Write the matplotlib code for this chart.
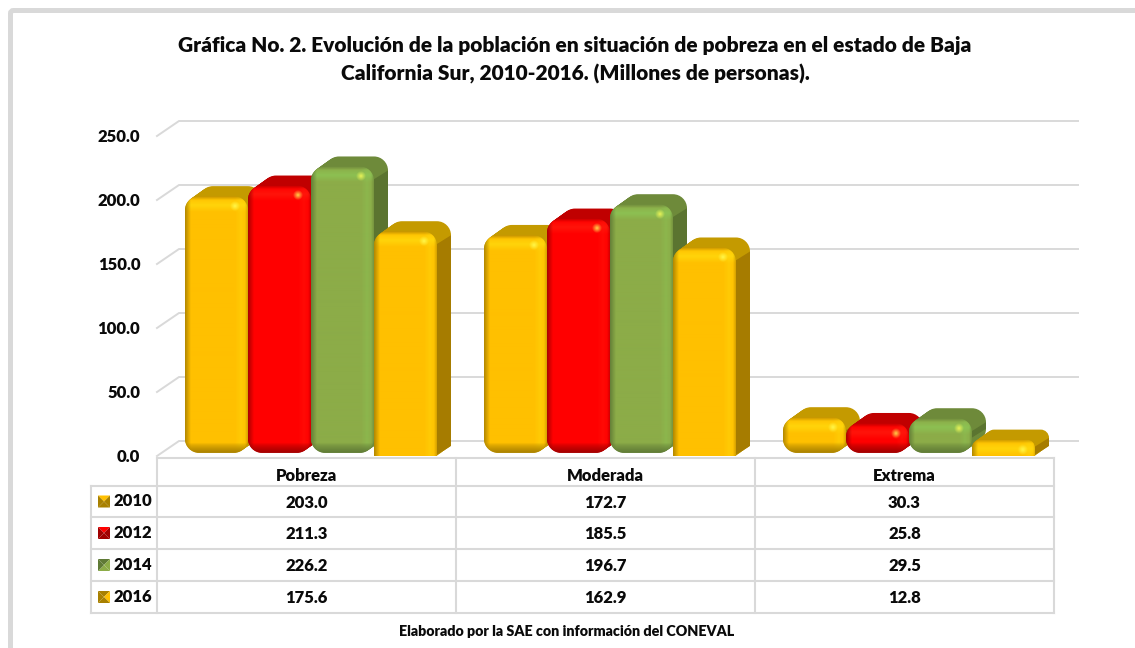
import numpy as np
import matplotlib
matplotlib.use("Agg")
import matplotlib.pyplot as plt
from matplotlib.patches import FancyBboxPatch, PathPatch, Polygon
from matplotlib.path import Path

plt.rcParams['font.family'] = ['Lato', 'DejaVu Sans']
plt.rcParams['font.weight'] = 'heavy'

categories = ['Pobreza', 'Moderada', 'Extrema']
years = ['2010', '2012', '2014', '2016']
pobreza = [203.0, 211.3, 226.2, 175.6]
moderada = [172.7, 185.5, 196.7, 162.9]
extrema = [30.3, 25.8, 29.5, 12.8]
y_ticks = [0, 50, 100, 150, 200, 250]
title = ('Gráfica No. 2. Evolución de la población en situación de pobreza en el estado de Baja\n'
         'California Sur, 2010-2016. (Millones de personas).')
footer = 'Elaborado por la SAE con información del CONEVAL'

# front, top, side, edge colours of each series
front_colors = ['#FFC000', '#FF0000', '#8CAC48', '#FFC000']
top_colors = ['#C49A00', '#C00000', '#6E8A3A', '#C49A00']
side_colors = ['#A67C00', '#A00000', '#5B7430', '#A67C00']
edge_colors = ['#A88000', '#A00000', '#5F7A36', '#A88000']

GRAY = '#D9D9D9'
W, H = 1135, 648
PX_X = 1 / 299          # category units per pixel
PX_Y = 250 / 320        # value units per pixel
DX, DY = 14, 10         # bar depth, pixels
WALL_DX, WALL_DY = 22, 15
TEXT = '#0A0A0A'


def rgb(c):
    return np.array(matplotlib.colors.to_rgb(c))


def bevel_image(front, edge, w, h, r, flat_bottom):
    # shaded face of a bar, a pixel grid of w x h
    yy, xx = np.mgrid[0:h, 0:w] + 0.5
    img = np.ones((h, w, 3)) * rgb(front)
    bright = np.minimum(rgb(front) + np.array([0, .10, .05]), 1)

    def mix(img, col, amount):
        return img + (col - img) * amount[..., None]

    # lighter band below the top edge
    img = mix(img, bright, np.clip(1 - np.abs(yy - 9) / 7, 0, 1) * .8)
    img = mix(img, bright, np.clip(1 - np.abs(xx - (w - 7)) / 6, 0, 1) * .4)
    # dark borders
    img = mix(img, rgb(edge), np.clip(1 - xx / 6, 0, 1) * .9)
    img = mix(img, rgb(edge), np.clip(1 - yy / 4, 0, 1) * .7)
    if not flat_bottom:
        img = mix(img, rgb(edge), np.clip(1 - (h - yy) / 10, 0, 1) ** .7)
    img = mix(img, rgb(edge), np.clip(1 - (w - xx) / 3, 0, 1) * .5)
    # glint in the upper right corner
    d = np.hypot(xx - (w - 13), yy - 10)
    img = mix(img, np.array([1, 1, .35]), np.clip(1 - d / 5, 0, 1) * .8)
    return np.clip(img, 0, 1)


def face_path(x0, x1, y0, y1, r, flat_bottom):
    rx, ry = r * PX_X, r * PX_Y
    k = 0.45
    verts = [(x0 + rx, y1), (x1 - rx, y1),
             (x1 - rx * k, y1), (x1, y1 - ry * k), (x1, y1 - ry)]
    codes = [Path.MOVETO, Path.LINETO, Path.CURVE4, Path.CURVE4, Path.CURVE4]
    if flat_bottom:
        verts += [(x1, y0), (x0, y0), (x0, y1 - ry)]
        codes += [Path.LINETO, Path.LINETO, Path.LINETO]
    else:
        verts += [(x1, y0 + ry), (x1, y0 + ry * k), (x1 - rx * k, y0), (x1 - rx, y0),
                  (x0 + rx, y0), (x0 + rx * k, y0), (x0, y0 + ry * k), (x0, y0 + ry),
                  (x0, y1 - ry)]
        codes += [Path.LINETO, Path.CURVE4, Path.CURVE4, Path.CURVE4,
                  Path.LINETO, Path.CURVE4, Path.CURVE4, Path.CURVE4, Path.LINETO]
    verts += [(x0, y1 - ry * k), (x0 + rx * k, y1), (x0 + rx, y1), (x0 + rx, y1)]
    codes += [Path.CURVE4, Path.CURVE4, Path.CURVE4, Path.CLOSEPOLY]
    return Path(verts, codes)


def draw_bar(ax, x0, value, j, zorder):
    x1 = x0 + 63 * PX_X
    flat = j == 3
    y0 = 0 if flat else 2.5
    h_px = (value - y0) / PX_Y
    r = min(14, h_px / 2)
    dx, dy = DX * PX_X, DY * PX_Y

    # extrusion seen above and to the right of the face
    for t in np.linspace(1, 0, 15):
        p = face_path(x0 + dx * t, x1 + dx * t, y0 + dy * t, value + dy * t, r, flat)
        ax.add_patch(PathPatch(p, fc=top_colors[j], ec='none', zorder=zorder, clip_on=False))
    side = Polygon([(x1 - 2 * PX_X, value - r * PX_Y), (x1 + dx, value - r * PX_Y + dy),
                    (x1 + dx, y0 + r * PX_Y * (0 if flat else 1) + dy),
                    (x1 - 2 * PX_X, y0 + (0 if flat else r * PX_Y))],
                   fc=side_colors[j], ec='none', zorder=zorder, clip_on=False)
    ax.add_patch(side)

    # front face, shaded and clipped to the rounded outline
    face = PathPatch(face_path(x0, x1, y0, value, r, flat), fc='none', ec='none',
                     zorder=zorder, clip_on=False)
    ax.add_patch(face)
    img = bevel_image(front_colors[j], edge_colors[j], 63, max(int(h_px), 2), r, flat)
    im = ax.imshow(img, extent=[x0, x1, y0, value], aspect='auto', origin='upper',
                   zorder=zorder + 0.5, interpolation='bilinear')
    im.set_clip_path(face)


def draw_key(ax, x, y, j):
    # small pyramid marker in the table's first column
    s = 6
    c = rgb(front_colors[j])
    e = rgb(edge_colors[j])
    tris = [([(x - s, y - s), (x + s, y - s), (x, y)], e if j >= 2 else c),
            ([(x + s, y - s), (x + s, y + s), (x, y)], e if j < 2 else c),
            ([(x - s, y + s), (x + s, y + s), (x, y)], e if j != 2 else c),
            ([(x - s, y - s), (x - s, y + s), (x, y)], e)]
    for pts, col in tris:
        ax.add_patch(Polygon(pts, fc=col, ec='none', zorder=3))


fig = plt.figure(figsize=(W / 100, H / 100), dpi=100, facecolor='white')

# page layer: frame, title, table, measured in pixels
page = fig.add_axes([0, 0, 1, 1])
page.set_xlim(0, W)
page.set_ylim(H, 0)
page.axis('off')
page.add_patch(FancyBboxPatch((10.5, 10.5), W + 50, H + 50, boxstyle='round,pad=0,rounding_size=3',
                              fc='white', ec=GRAY, lw=3.6, clip_on=True))
page.text(575, 60, title, ha='center', va='center', fontsize=15, color=TEXT, linespacing=1.5)
page.text(567, 631, footer, ha='center', va='center', fontsize=10.3, color=TEXT)

col_x = [157, 456, 755, 1054]
row_y = [486, 517, 549, 581, 613]
line_kw = dict(color=GRAY, lw=1.5, zorder=1)
page.plot([157, 1054], [458, 458], **line_kw)
for y in row_y:
    page.plot([91, 1054], [y, y], **line_kw)
page.plot([91, 91], [row_y[0], row_y[-1]], **line_kw)
for x in col_x:
    page.plot([x, x], [458, row_y[-1]], **line_kw)

for i, cat in enumerate(categories):
    cx = (col_x[i] + col_x[i + 1]) / 2
    page.text(cx, 476, cat, ha='center', va='center', fontsize=12, color=TEXT)
    for j, v in enumerate([pobreza, moderada, extrema][i]):
        cy = (row_y[j] + row_y[j + 1]) / 2 + 1
        page.text(cx, cy, f'{v:.1f}', ha='center', va='center', fontsize=12, color=TEXT)
for j, yr in enumerate(years):
    cy = (row_y[j] + row_y[j + 1]) / 2
    draw_key(page, 104, cy, j)
    page.text(113, cy, yr, ha='left', va='center', fontsize=12, color=TEXT)

# chart layer
ax = fig.add_axes([157 / W, 1 - 456 / H, 897 / W, 320 / H])
ax.patch.set_alpha(0)
for s in ax.spines.values():
    s.set_visible(False)

wall_x, wall_y = WALL_DX * PX_X, WALL_DY * PX_Y
for t in y_ticks:
    ax.plot([0, wall_x, 921 * PX_X], [t, t + wall_y, t + wall_y], color=GRAY, lw=1.4,
            clip_on=False, zorder=1, solid_joinstyle='miter')

for i, values in enumerate([pobreza, moderada, extrema]):
    for j, v in enumerate(values):
        draw_bar(ax, i + (28 + 63 * j) * PX_X, v, j, 2 + j)

ax.set_xlim(0, 3)
ax.set_ylim(0, 250)
ax.set_xticks([])
ax.set_yticks(y_ticks)
ax.set_yticklabels([f'{t:.1f}' for t in y_ticks], fontsize=12, color=TEXT)
ax.tick_params(axis='y', length=0, pad=12)

fig.savefig('out.png', dpi=100, facecolor='white')
